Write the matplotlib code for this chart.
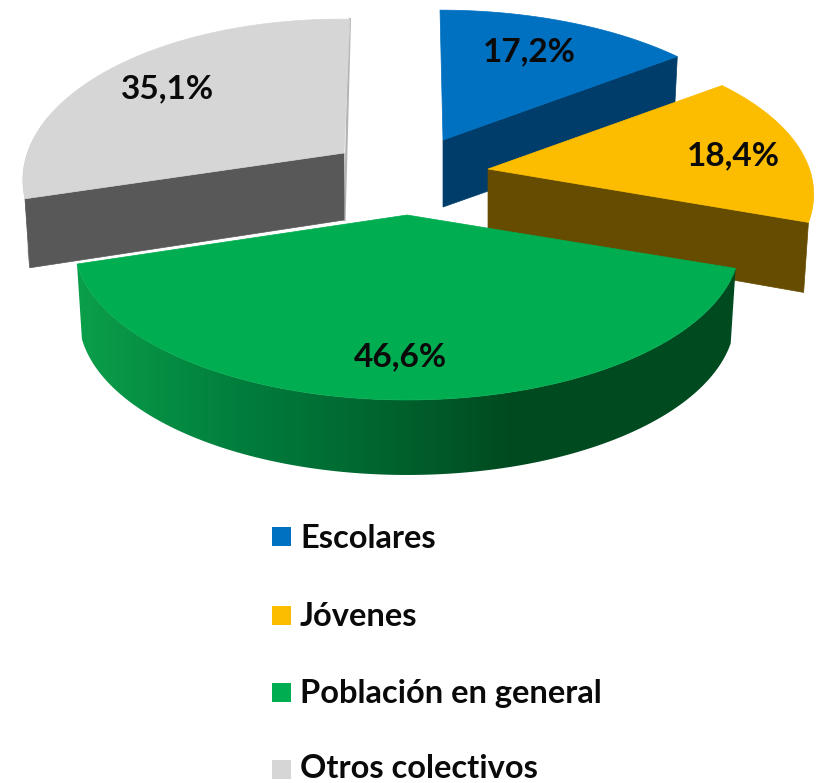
import numpy as np
import matplotlib
matplotlib.use('Agg')
import matplotlib.pyplot as plt
from matplotlib.colors import LinearSegmentedColormap
from matplotlib.patches import Polygon, Rectangle

categories = ['Escolares', 'Jóvenes', 'Población en general', 'Otros colectivos']
values = [17.2, 18.4, 46.6, 35.1]
value_labels = ['17,2%', '18,4%', '46,6%', '35,1%']

top_colors = ['#0070c0', '#fcbc00', '#00ad50', '#d6d6d6']
side_colors = ['#003d6b', '#664c00', '#00562a', '#585858']
wall_colors = ['#003d6b', '#664c00', '#00562a', '#b4b4b4']
apex = [(443, 140), (488, 169), (407, 215), (344, 153)]
depth = [69, 70, 75, 69]
x_scale = [1.0, 0.98, 1.0, 0.96]
y_scale = [1.0, 1.0, 1.0, 1.03]
lean = [0.023, -0.03, 0.0, -0.044]
tilt = [0.0, 0.0, 0.0, 0.015]
label_pos = [(529, 52), (733, 156), (400, 357), (167, 89)]
legend_y = [537, 616, 693, 770]
legend_text_y = [538, 617, 694, 768]

# disk seen in perspective, fitted by eye
A, B, K = 328, 152.6, 0.175
SHRINK = 0.985


def project(i, theta, bottom=False):
    u, v = np.sin(theta), -np.cos(theta)
    w = 1 - K * v
    x0, y0 = x_scale[i] * A * u / w, y_scale[i] * B * v / w
    x = x0 + lean[i] * y0
    y = y0 + tilt[i] * x0
    if bottom:
        x = x * SHRINK
        y = y + depth[i]
    return apex[i][0] + x, apex[i][1] + y


fig, ax = plt.subplots(figsize=(8.16, 7.83), dpi=100)
ax.set_position([0, 0, 1, 1])

ends = np.cumsum(values) / np.sum(values) * 2 * np.pi
starts = np.concatenate([[0], ends[:-1]])

green_side = LinearSegmentedColormap.from_list(
    'green_side',
    [(0.0, '#0b9f4a'), (0.25, '#007d3c'), (0.42, '#006a32'), (0.66, '#004a20'), (1.0, '#004a20')])

for i in [0, 3, 1, 2]:
    t0, t1 = starts[i], ends[i]
    ax0, ay0 = apex[i]

    # outer wall, only the part turned to the viewer (blue and yellow show none)
    if i >= 2:
        t = np.linspace(t0, t1, 200)
        t = t[-np.cos(t) > -0.25]
        xt, yt = project(i, t)
        xb, yb = project(i, t, True)
        wall = np.column_stack([np.concatenate([xt, xb[::-1]]), np.concatenate([yt, yb[::-1]])])
        if i == 2:
            poly = Polygon(wall, closed=True, fc='none', ec='none', zorder=i + 1)
            ax.add_patch(poly)
            grad = ax.imshow(np.linspace(0, 1, 256)[None, :], cmap=green_side, aspect='auto',
                             extent=(wall[:, 0].min(), wall[:, 0].max(), wall[:, 1].max(), wall[:, 1].min()),
                             zorder=i + 1)
            grad.set_clip_path(poly)
        else:
            ax.add_patch(Polygon(wall, closed=True, fc=wall_colors[i], ec='none', zorder=i + 1))

    # cut face that looks at the viewer
    if i != 2:
        t_cut = t0 if i == 3 else t1
        x1, y1 = project(i, t_cut)
        x2, y2 = project(i, t_cut, True)
        face = [(ax0, ay0), (x1, y1), (x2, y2), (ax0, ay0 + depth[i] - 2)]
        ax.add_patch(Polygon(face, closed=True, fc=side_colors[i], ec=side_colors[i], lw=0.5, zorder=i + 1.1))

    ta = np.linspace(t0, t1, 100)
    xa, ya = project(i, ta)
    top = np.vstack([[(ax0, ay0)], np.column_stack([xa, ya])])

    if i == 3:
        xe, ye = project(i, t1)
        ax.plot([ax0 + 0.5, xe], [ay0 + depth[i] - 2, ye], color='#b4b4b4', lw=1.6, zorder=i + 1.05)

    ax.add_patch(Polygon(top, closed=True, fc=top_colors[i], ec=top_colors[i], lw=0.5, zorder=i + 1.2))

for (x, y), lab in zip(label_pos, value_labels):
    ax.text(x, y, lab, ha='center', va='center', fontsize=24, fontweight='bold',
            family='Lato', color='#0a0a0a', zorder=10)

for cat, col, y, ty in zip(categories, top_colors, legend_y, legend_text_y):
    ax.add_patch(Rectangle((272, y - 10), 19, 19, fc=col, ec='none', zorder=10))
    ax.text(300, ty, cat, ha='left', va='center', fontsize=23.5, fontweight='bold',
            family='Lato', color='#0a0a0a', zorder=10)

ax.set_xlim(0, 816)
ax.set_ylim(783, 0)
ax.axis('off')

fig.savefig('out.png', dpi=100, facecolor='white')
